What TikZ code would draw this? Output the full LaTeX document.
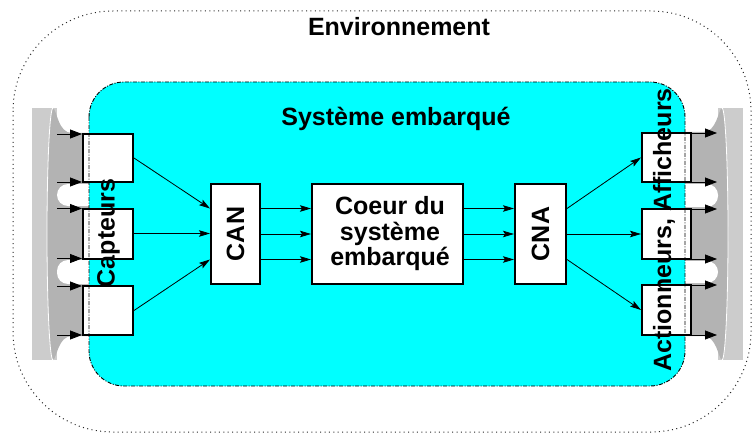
\documentclass[tikz,border=0pt]{standalone}
\usepackage{fontspec}
\setmainfont{Liberation Sans}
\usetikzlibrary{arrows.meta,calc}
\definecolor{lgray}{HTML}{CCCCCC}
\definecolor{dgray}{HTML}{B3B3B3}
\definecolor{cyanfill}{HTML}{00FFFF}
\tikzset{
  box/.style={draw=black, line width=2pt, fill=white, inner sep=0pt},
  lbl/.style={font=\fontsize{25}{25.5}\selectfont\bfseries, inner sep=0pt},
  conn/.style={line width=0.8pt, -{Stealth[length=11pt,width=6.5pt,inset=2pt]}},
  side/.style={line width=0.8pt, -{Triangle[length=12pt,width=9pt]}},
  envline/.style={draw=black!85, line width=1pt, dash pattern=on 1pt off 3.4pt},
  sysline/.style={draw=black, line width=0.9pt, dash pattern=on 4pt off 1.5pt on 1pt off 1.5pt},
}
\begin{document}
\begin{tikzpicture}[x=1pt,y=-1pt]
\useasboundingbox (0,0) rectangle (752,433);
% environment
\draw[envline, rounded corners=100pt] (13,11) rectangle (751,432);
% left grey stripe
\fill[lgray] (32,108) rectangle (57,360);
\fill[dgray] (53,108) .. controls (49.7,108) and (47,164) .. (47,234)
  .. controls (47,304) and (49.7,360) .. (53,360)
  .. controls (57,358) and (58,336) .. (72,336) -- (90,336) -- (90,133) -- (72,133)
  .. controls (58,133) and (57,110) .. (53,108) -- cycle;
\draw[white, line width=0.8pt] (53,108) .. controls (49.7,108) and (47,164) .. (47,234)
  .. controls (47,304) and (49.7,360) .. (53,360);
\fill[white, rounded corners=11pt] (57,184) rectangle (100,206);
\fill[white, rounded corners=11pt] (57,260) rectangle (100,284);
% right grey stripe
\fill[lgray] (718,108) rectangle (743,360);
\fill[dgray] (722,108) .. controls (725.3,108) and (728,164) .. (728,234)
  .. controls (728,304) and (725.3,360) .. (722,360)
  .. controls (718,358) and (717,336) .. (703,336) -- (685,336) -- (685,132) -- (703,132)
  .. controls (717,132) and (718,110) .. (722,108) -- cycle;
\draw[white, line width=0.8pt] (722,108) .. controls (725.3,108) and (728,164) .. (728,234)
  .. controls (728,304) and (725.3,360) .. (722,360);
\fill[white, rounded corners=11pt] (675,184) rectangle (718,207);
\fill[white, rounded corners=11pt] (675,261) rectangle (718,283);
% embedded system area
\fill[cyanfill, rounded corners=35pt] (89,82) rectangle (685,386);
% boxes
\node[box, minimum width=50pt, minimum height=48pt] (c1) at (108,158) {};
\node[box, minimum width=50pt, minimum height=50pt] (c2) at (108,233.5) {};
\node[box, minimum width=50pt, minimum height=49pt] (c3) at (108,310.5) {};
\node[box, minimum width=49pt, minimum height=49pt] (a1) at (666.5,157.5) {};
\node[box, minimum width=49pt, minimum height=50pt] (a2) at (666.5,234) {};
\node[box, minimum width=49pt, minimum height=50pt] (a3) at (666.5,310) {};
\node[box, minimum width=49pt, minimum height=100pt] (can) at (235.5,234) {};
\node[box, minimum width=151pt, minimum height=100pt] (coeur) at (387.5,234) {};
\node[box, minimum width=51pt, minimum height=100pt] (cna) at (540.5,234) {};
% system border on top
\draw[sysline, rounded corners=35pt] (89,82) rectangle (685,386);
% side arrows
\foreach \b in {c1,c2,c3}{
  \draw[side] ($(\b.north west)+(-25,1)$) -- ($(\b.north west)+(0,1)$);
  \draw[side] ($(\b.south west)+(-25,-1)$) -- ($(\b.south west)+(0,-1)$);
}
\foreach \b in {a1,a2,a3}{
  \draw[side] ($(\b.north east)+(0,1)$) -- ($(\b.north east)+(25,1)$);
  \draw[side] ($(\b.south east)+(0,-1)$) -- ($(\b.south east)+(25,-1)$);
}
% connectors
\draw[conn] (c1.east) -- ($(can.north west)!0.25!(can.south west)$);
\draw[conn] (c2.east) -- (c2.east -| can.west);
\draw[conn] (c3.east) -- ($(can.north west)!0.75!(can.south west)$);
\foreach \t in {0.25,0.5,0.75}{
  \draw[conn] ($(can.north east)!\t!(can.south east)$) -- ($(coeur.north west)!\t!(coeur.south west)$);
  \draw[conn] ($(coeur.north east)!\t!(coeur.south east)$) -- ($(cna.north west)!\t!(cna.south west)$);
}
\draw[conn] ($(cna.north east)!0.25!(cna.south east)$) -- (a1.west);
\draw[conn] (cna.east) -- (a2.west);
\draw[conn] ($(cna.north east)!0.75!(cna.south east)$) -- (a3.west);
% texts
\node[lbl, anchor=base] (env) at (399,36) {Environnement};
\node[lbl, anchor=base] (sys) at (396,125) {Système embarqué};
\node[lbl, align=center] (coeurtxt) at (390,234) {Coeur du\\système\\embarqué};
\node[lbl, rotate=90] (cantxt) at (can.center) {CAN};
\node[lbl, rotate=90] (cnatxt) at (cna.center) {CNA};
\node[lbl, rotate=90] (capt) at (108.5,233) {Capteurs};
\node[lbl, rotate=90] (act) at (664,230) {Actionneurs, Afficheurs};
\end{tikzpicture}
\end{document}
